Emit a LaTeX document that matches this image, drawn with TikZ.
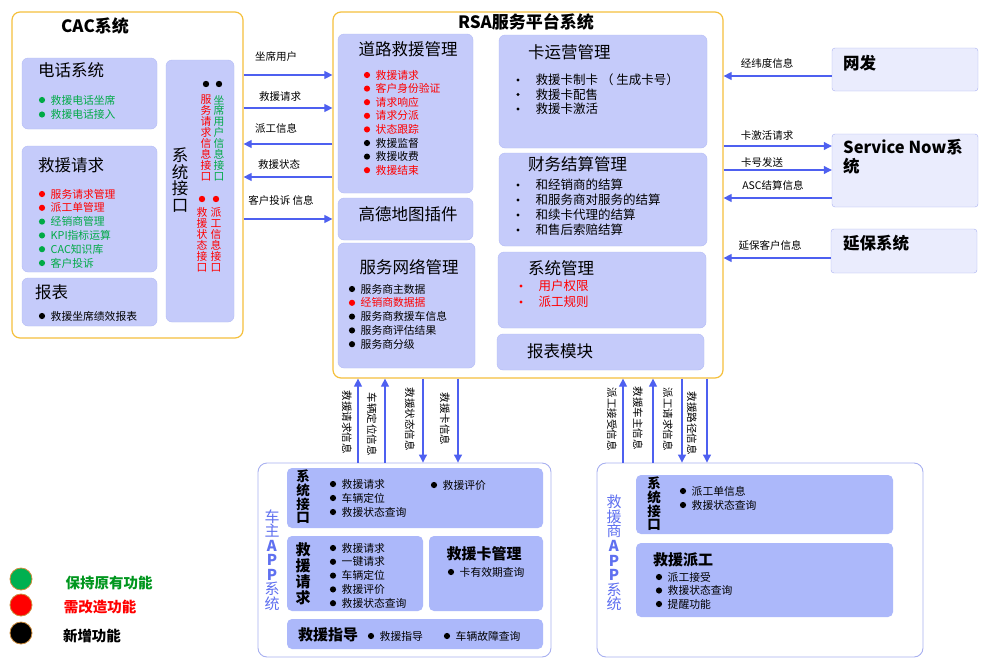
\documentclass[tikz,border=0pt]{standalone}
\usepackage{fontspec}
\setmainfont{Noto Sans CJK SC}
\usepackage{tikz}
\usetikzlibrary{positioning,arrows.meta,fit}
\usepackage{xcolor}

\definecolor{frameor}{RGB}{245,192,60}
\definecolor{panelfill}{RGB}{197,203,250}
\definecolor{panelline}{RGB}{180,188,246}
\definecolor{appfill}{RGB}{172,184,250}
\definecolor{appline}{RGB}{168,176,240}
\definecolor{extfill}{RGB}{234,236,253}
\definecolor{arrowblue}{RGB}{78,96,240}
\definecolor{keepgreen}{RGB}{0,170,70}
\definecolor{dotgreen}{RGB}{0,176,80}
\definecolor{legendgreen}{RGB}{0,150,30}
\definecolor{dotrim}{RGB}{205,140,60}
\definecolor{apptitle}{RGB}{95,112,240}

% #1 = node prefix, #2 = dot x, #3 = first y, #4 = step, #5 = list of colour/text
\newcommand{\items}[5]{%
  \foreach \col/\txt [count=\i from 0] in {#5} {
    \fill[\col] (#2, #3+\i*#4) circle (3.1pt);
    \node[itm, text=\col] (#1\i) at (#2+8.5, #3+\i*#4) {\txt};
  }%
}
% same, small dots and a wider gap
\newcommand{\smallitems}[5]{%
  \foreach \col/\txt [count=\i from 0] in {#5} {
    \fill[\col] (#2, #3+\i*#4) circle (1.6pt);
    \node[itm, font=\fontsize{12.5}{14}\selectfont, text=\col] (#1\i) at (#2+17.5, #3+\i*#4) {\txt};
  }%
}

\begin{document}
\begin{tikzpicture}[
  x=1pt, y=-1pt,
  sysframe/.style = {draw=frameor, line width=1.2pt, rounded corners=8pt, fill=white, inner sep=0pt},
  appframe/.style = {draw=appline, line width=0.9pt, rounded corners=9pt, fill=white, inner sep=0pt},
  panel/.style    = {draw=panelline, fill=panelfill, rounded corners=6pt, inner sep=0pt},
  apppanel/.style = {fill=appfill, rounded corners=5pt, inner sep=0pt},
  extbox/.style   = {draw=appline, fill=extfill, rounded corners=3pt, inner sep=0pt},
  bigttl/.style   = {font=\fontsize{17}{19}\selectfont\bfseries, inner sep=0pt},
  ttl/.style      = {font=\fontsize{16.5}{18}\selectfont, inner sep=0pt},
  bttl/.style     = {font=\fontsize{15}{17}\selectfont\bfseries, inner sep=0pt},
  itm/.style      = {font=\fontsize{10.8}{12}\selectfont, anchor=west, inner sep=0pt},
  lbl/.style      = {font=\fontsize{10.5}{12}\selectfont, inner sep=0pt},
  vstack/.style   = {align=center, inner sep=0pt},
  arr/.style      = {draw=arrowblue, line width=1.1pt, -{Triangle[length=8pt,width=8pt]}},
  legdot/.style   = {circle, draw=dotrim, line width=0.8pt, minimum size=22pt, inner sep=0pt},
  legtxt/.style   = {font=\fontsize{14.5}{16}\selectfont\bfseries, inner sep=0pt},
]
\useasboundingbox (0,0) rectangle (994,667);

% ======================= CAC system =====================================
\node[sysframe, fit={(12,12) (243,338)}] (cac) {};
\node[bigttl] (cacT) at (95,26) {CAC系统};

\node[panel, fit={(22,58) (157,129)}] (tel) {};
\node[ttl, anchor=west] (telT) at (38,70) {电话系统};
\items{tel}{42}{100}{14.5}{keepgreen/救援电话坐席, keepgreen/救援电话接入}

\node[panel, fit={(22,146) (157,272)}] (req) {};
\node[ttl, anchor=west] (reqT) at (38,165) {救援请求};
\items{req}{42}{194}{13.8}{red/服务请求管理, red/派工单管理, keepgreen/经销商管理,
  keepgreen/KPI指标运算, keepgreen/CAC知识库, keepgreen/客户投诉}

\node[panel, fit={(22,278) (157,326)}] (rep) {};
\node[ttl, anchor=west] (repT) at (35,292) {报表};
\items{rep}{42}{316}{0}{black/救援坐席绩效报表}

\node[panel, fit={(166,60) (234,322)}] (cacIf) {};
\node[vstack, font=\fontsize{16.5}{16.5}\selectfont] (cacIfT) at (180,180) {系\\统\\接\\口};
\fill (206,84) circle (3.2pt);
\fill (219,84) circle (3.2pt);
\node[vstack, lbl, font=\fontsize{10.8}{10.9}\selectfont, text=red] (svcIf) at (206,138)
  {服\\务\\请\\求\\信\\息\\接\\口};
\node[vstack, lbl, font=\fontsize{10.8}{10.9}\selectfont, text=keepgreen] (seatIf) at (219,138)
  {坐\\席\\用\\户\\信\\息\\接\\口};
\fill[red] (202,199) circle (3.2pt);
\fill[red] (216,199) circle (3.2pt);
\node[vstack, lbl, font=\fontsize{10.8}{10.9}\selectfont, text=red] (stIf) at (202,240)
  {救\\援\\状\\态\\接\\口};
\node[vstack, lbl, font=\fontsize{10.8}{10.9}\selectfont, text=red] (dpIf) at (216,240)
  {派\\工\\信\\息\\接\\口};

% ======================= RSA platform ===================================
\node[sysframe, fit={(333,12) (723,378)}] (rsa) {};
\node[bigttl] (rsaT) at (526,22) {RSA服务平台系统};

\node[panel, fit={(338,34) (473,193)}] (road) {};
\node[ttl] (roadT) at (408,49) {道路救援管理};
\items{road}{367}{75}{13.6}{red/救援请求, red/客户身份验证, red/请求响应, red/请求分派,
  red/状态跟踪, black/救援监督, black/救援收费, red/救援结束}

\node[panel, fit={(338,198) (473,240)}] (gaode) {};
\node[ttl] (gaodeT) at (408,214) {高德地图插件};

\node[panel, fit={(338,243) (475,368)}] (net) {};
\node[ttl] (netT) at (409,267) {服务网络管理};
\items{net}{352}{289}{13.8}{black/服务商主数据, red/经销商数据据, black/服务商救援车信息,
  black/服务商评估结果, black/服务商分级}

\node[panel, fit={(499,35) (707,148)}] (card) {};
\node[ttl, anchor=west] (cardT) at (528,52) {卡运营管理};
\smallitems{card}{518}{80}{14.5}{black/救援卡制卡 （ 生成卡号）, black/救援卡配售, black/救援卡激活}

\node[panel, fit={(499,153) (707,246)}] (fin) {};
\node[ttl, anchor=west] (finT) at (528,164) {财务结算管理};
\smallitems{fin}{518}{185}{15}{black/和经销商的结算, black/和服务商对服务的结算,
  black/和续卡代理的结算, black/和售后索赔结算}

\node[panel, fit={(498,252) (706,328)}] (sysm) {};
\node[ttl, anchor=west] (sysmT) at (528,268) {系统管理};
\smallitems{sysm}{521}{286}{16}{red/用户权限, red/派工规则}

\node[panel, fit={(497,334) (704,370)}] (rpt) {};
\node[ttl, anchor=west] (rptT) at (527,351) {报表模块};

% ======================= CAC <-> RSA ====================================
\draw[arr] (cac.east |- 0,75)  -- (rsa.west |- 0,75);
\draw[arr] (cac.east |- 0,108) -- (rsa.west |- 0,108);
\draw[arr] (rsa.west |- 0,144) -- (cac.east |- 0,144);
\draw[arr] (rsa.west |- 0,177) -- (cac.east |- 0,177);
\draw[arr] (cac.east |- 0,219) -- (rsa.west |- 0,219);
\node[lbl] (l1) at (276,57)  {坐席用户};
\node[lbl] (l2) at (280,97)  {救援请求};
\node[lbl] (l3) at (276,128) {派工信息};
\node[lbl] (l4) at (279,165) {救援状态};
\node[lbl] (l5) at (281,200) {客户投诉 信息};

% ======================= outside systems ================================
\node[extbox, fit={(832,48) (978,91)}] (wf) {};
\node[ttl, font=\fontsize{16.5}{18}\selectfont\bfseries, anchor=west] (wfT) at (843,63) {网发};
\node[extbox, fit={(832,134) (978,207)}] (sn) {};
\node[ttl, font=\fontsize{16.5}{19}\selectfont\bfseries, anchor=north west, align=left] (snT)
  at (843,139.5) {Service Now系\\统};
\node[extbox, fit={(831,229) (977,273)}] (yb) {};
\node[ttl, font=\fontsize{16.5}{18}\selectfont\bfseries, anchor=west] (ybT) at (843,243) {延保系统};

\draw[arr] (wf.west |- 0,76)  -- (rsa.east |- 0,76);
\draw[arr] (rsa.east |- 0,146) -- (sn.west |- 0,146);
\draw[arr] (rsa.east |- 0,170) -- (sn.west |- 0,170);
\draw[arr] (sn.west |- 0,198) -- (rsa.east |- 0,198);
\draw[arr] (yb.west |- 0,258) -- (rsa.east |- 0,258);
\node[lbl] (r1) at (767,63)  {经纬度信息};
\node[lbl] (r2) at (767,136) {卡激活请求};
\node[lbl] (r3) at (762,163) {卡号发送};
\node[lbl] (r4) at (773,185) {ASC结算信息};
\node[lbl] (r5) at (770,245) {延保客户信息};

% ======================= car owner APP ==================================
\node[appframe, fit={(258,463) (551,657)}] (own) {};
\node[vstack, font=\fontsize{15}{14.5}\selectfont, text=apptitle] (ownT) at (272,560)
  {车\\主\\\textbf{A}\\\textbf{P}\\\textbf{P}\\系\\统};

\node[apppanel, fit={(287,468) (543,528)}] (ownIf) {};
\node[vstack, font=\fontsize{13.5}{13.6}\selectfont\bfseries] (ownIfT) at (303,497) {系\\统\\接\\口};
\items{ownIf}{333}{484}{14}{black/救援请求, black/车辆定位, black/救援状态查询}
\items{ownEv}{434}{485}{0}{black/救援评价}

\node[apppanel, fit={(287,536) (423,611)}] (ownRq) {};
\node[vstack, font=\fontsize{15}{16}\selectfont\bfseries] (ownRqT) at (303,574) {救\\援\\请\\求};
\items{ownRq}{333}{548}{13.8}{black/救援请求, black/一键请求, black/车辆定位, black/救援评价,
  black/救援状态查询}

\node[apppanel, fit={(429,536) (543,611)}] (ownCd) {};
\node[bttl] (ownCdT) at (484,554) {救援卡管理};
\items{ownCd}{451}{572}{0}{black/卡有效期查询}

\node[apppanel, fit={(287,619) (543,649)}] (ownGd) {};
\node[bttl, anchor=west] (ownGdT) at (298,635) {救援指导};
\items{ownGa}{371}{636}{0}{black/救援指导}
\items{ownGb}{447}{636}{0}{black/车辆故障查询}

% ======================= rescuer APP ====================================
\node[appframe, fit={(597,463) (923,657)}] (res) {};
\node[vstack, font=\fontsize{15}{14.6}\selectfont, text=apptitle] (resT) at (614,553)
  {救\\援\\商\\\textbf{A}\\\textbf{P}\\\textbf{P}\\系\\统};

\node[apppanel, fit={(636,475) (893,534)}] (resIf) {};
\node[vstack, font=\fontsize{13.5}{13.6}\selectfont\bfseries] (resIfT) at (654,504) {系\\统\\接\\口};
\items{resIf}{683}{491}{14}{black/派工单信息, black/救援状态查询}

\node[apppanel, fit={(636,543) (893,617)}] (resDp) {};
\node[bttl, anchor=west] (resDpT) at (653,560) {救援派工};
\items{resDp}{659}{577}{13.5}{black/派工接受, black/救援状态查询, black/提醒功能}

% ======================= RSA <-> APPs ===================================
\draw[arr] (own.north -| 358,0) -- (rsa.south -| 358,0);
\draw[arr] (own.north -| 385,0) -- (rsa.south -| 385,0);
\draw[arr] (rsa.south -| 423,0) -- (own.north -| 423,0);
\draw[arr] (rsa.south -| 458,0) -- (own.north -| 458,0);
\node[lbl, rotate=-90] (b1) at (347,422) {救援请求信息};
\node[lbl, rotate=-90] (b2) at (372,424) {车辆定位信息};
\node[lbl, rotate=-90] (b3) at (410,419) {救援状态信息};
\node[lbl, rotate=-90] (b4) at (445,419) {救援卡信息};

\draw[arr] (res.north -| 623,0) -- (rsa.south -| 623,0);
\draw[arr] (res.north -| 653,0) -- (rsa.south -| 653,0);
\draw[arr] (rsa.south -| 682,0) -- (res.north -| 682,0);
\draw[arr] (rsa.south -| 707,0) -- (res.north -| 707,0);
\node[lbl, rotate=-90] (b5) at (612,419) {派工接受信息};
\node[lbl, rotate=-90] (b6) at (638,418) {救援车主信息};
\node[lbl, rotate=-90] (b7) at (668,419) {派工请求信息};
\node[lbl, rotate=-90] (b8) at (692,423) {救援路径信息};

% ======================= legend =========================================
\node[legdot, fill=dotgreen] (lgKeep) at (21,579) {};
\node[legdot, fill=red]      (lgMod)  at (21,605) {};
\node[legdot, fill=black]    (lgNew)  at (21,633) {};
\node[legtxt, text=legendgreen] (lgKeepT) at (109,583) {保持原有功能};
\node[legtxt, text=red]         (lgModT)  at (100,607) {需改造功能};
\node[legtxt]                   (lgNewT)  at (92,636)  {新增功能};

\end{tikzpicture}
\end{document}
